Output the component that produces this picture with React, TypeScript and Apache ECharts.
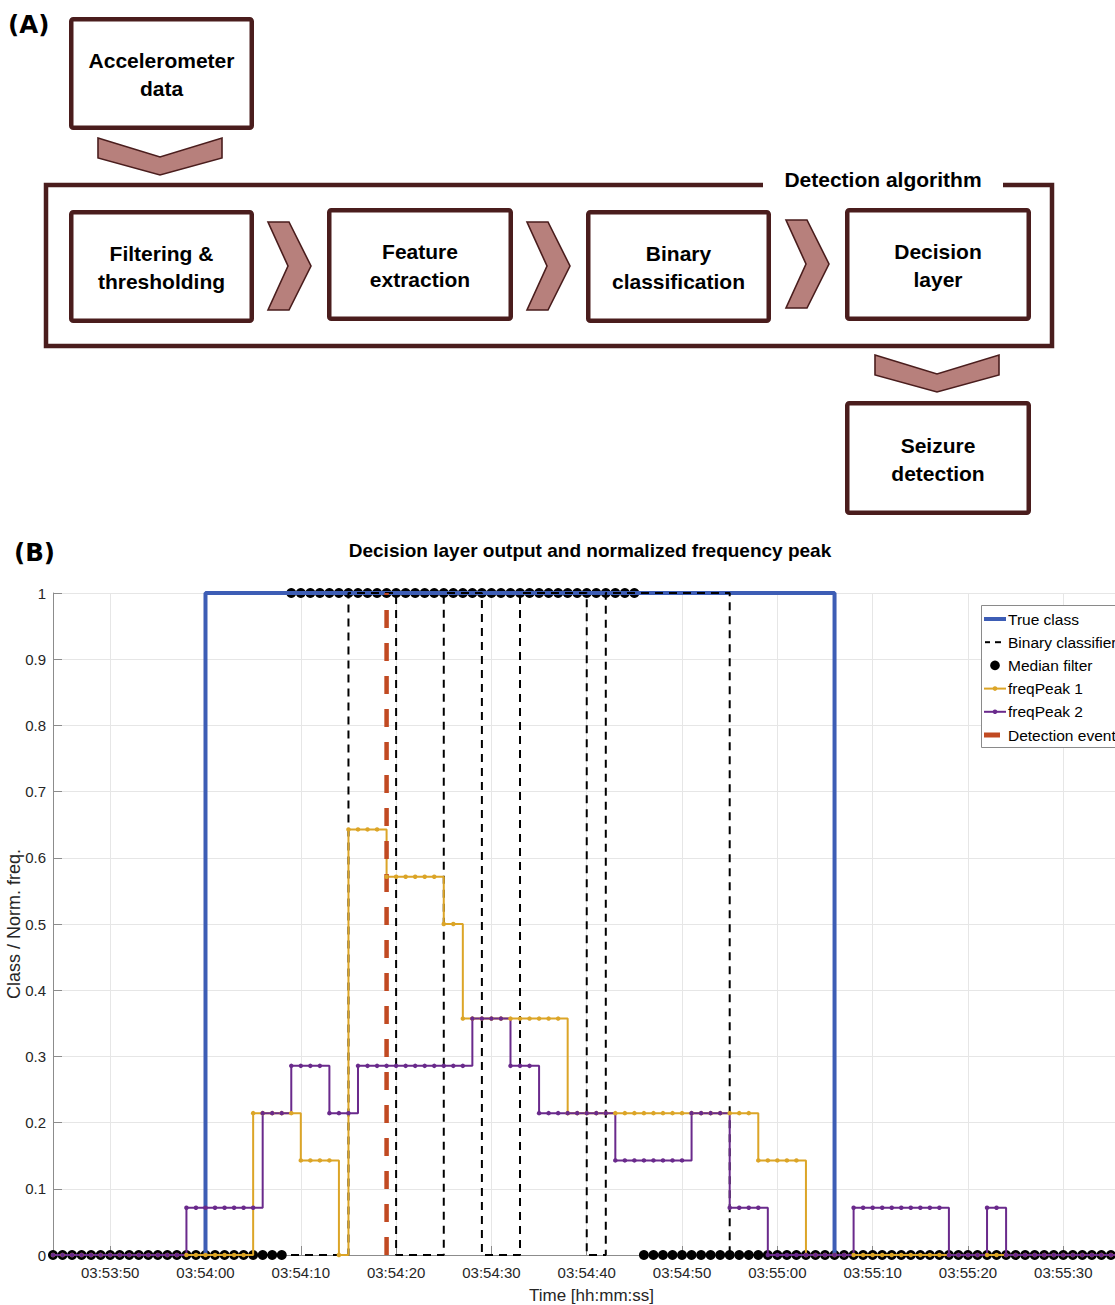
import React, { useEffect, useRef } from "react";
import * as echarts from "echarts";

// ---------------- DATA ----------------
// One sample per second, starting at 03:53:44
const sampleStart = "03:53:44";
const sampleStepSec = 1;

// freqPeak 1 (normalized), rows of 10 samples
const freqPeak1 = [
  0, 0, 0, 0, 0, 0, 0, 0, 0, 0, // 03:53:44
  0, 0, 0, 0, 0, 0, 0, 0, 0, 0, // 03:53:54
  0, 0.2143, 0.2143, 0.2143, 0.2143, 0.2143, 0.1429, 0.1429, 0.1429, 0.1429, // 03:54:04
  0, 0.6429, 0.6429, 0.6429, 0.6429, 0.5714, 0.5714, 0.5714, 0.5714, 0.5714, // 03:54:14
  0.5714, 0.5, 0.5, 0.3571, 0.3571, 0.3571, 0.3571, 0.3571, 0.3571, 0.3571, // 03:54:24
  0.3571, 0.3571, 0.3571, 0.3571, 0.2143, 0.2143, 0.2143, 0.2143, 0.2143, 0.2143, // 03:54:34
  0.2143, 0.2143, 0.2143, 0.2143, 0.2143, 0.2143, 0.2143, 0.2143, 0.2143, 0.2143, // 03:54:44
  0.2143, 0.2143, 0.2143, 0.2143, 0.1429, 0.1429, 0.1429, 0.1429, 0.1429, 0, // 03:54:54
  0, 0, 0, 0, 0, 0, 0, 0, 0, 0, // 03:55:04
  0, 0, 0, 0, 0, 0, 0, 0, 0, 0, // 03:55:14
  0, 0, 0, 0, 0, 0, 0, 0, 0, 0, // 03:55:24
  0, 0, 0, 0, // 03:55:34
];

// freqPeak 2 (normalized)
const freqPeak2 = [
  0, 0, 0, 0, 0, 0, 0, 0, 0, 0,
  0, 0, 0, 0, 0.0714, 0.0714, 0.0714, 0.0714, 0.0714, 0.0714,
  0.0714, 0.0714, 0.2143, 0.2143, 0.2143, 0.2857, 0.2857, 0.2857, 0.2857, 0.2143,
  0.2143, 0.2143, 0.2857, 0.2857, 0.2857, 0.2857, 0.2857, 0.2857, 0.2857, 0.2857,
  0.2857, 0.2857, 0.2857, 0.2857, 0.3571, 0.3571, 0.3571, 0.3571, 0.2857, 0.2857,
  0.2857, 0.2143, 0.2143, 0.2143, 0.2143, 0.2143, 0.2143, 0.2143, 0.2143, 0.1429,
  0.1429, 0.1429, 0.1429, 0.1429, 0.1429, 0.1429, 0.1429, 0.2143, 0.2143, 0.2143,
  0.2143, 0.0714, 0.0714, 0.0714, 0.0714, 0, 0, 0, 0, 0,
  0, 0, 0, 0, 0.0714, 0.0714, 0.0714, 0.0714, 0.0714, 0.0714,
  0.0714, 0.0714, 0.0714, 0.0714, 0, 0, 0, 0, 0.0714, 0.0714,
  0, 0, 0, 0, 0, 0, 0, 0, 0, 0,
  0, 0, 0, 0,
];

// Binary classifier output (0/1)
const binaryClassifier = [
  0, 0, 0, 0, 0, 0, 0, 0, 0, 0,
  0, 0, 0, 0, 0, 0, 0, 0, 0, 0,
  0, 0, 0, 0, 0, 0, 0, 0, 0, 0,
  0, 1, 1, 1, 1, 1, 0, 0, 0, 0,
  0, 1, 1, 1, 1, 0, 0, 0, 0, 1,
  1, 1, 1, 1, 1, 1, 0, 0, 1, 1,
  1, 1, 1, 1, 1, 1, 1, 1, 1, 1,
  1, 0, 0, 0, 0, 0, 0, 0, 0, 0,
  0, 0, 0, 0, 0, 0, 0, 0, 0, 0,
  0, 0, 0, 0, 0, 0, 0, 0, 0, 0,
  0, 0, 0, 0, 0, 0, 0, 0, 0, 0,
  0, 0, 0, 0,
];

// Median filter output (0/1)
const medianFilter = [
  0, 0, 0, 0, 0, 0, 0, 0, 0, 0,
  0, 0, 0, 0, 0, 0, 0, 0, 0, 0,
  0, 0, 0, 0, 0, 1, 1, 1, 1, 1,
  1, 1, 1, 1, 1, 1, 1, 1, 1, 1,
  1, 1, 1, 1, 1, 1, 1, 1, 1, 1,
  1, 1, 1, 1, 1, 1, 1, 1, 1, 1,
  1, 1, 0, 0, 0, 0, 0, 0, 0, 0,
  0, 0, 0, 0, 0, 0, 0, 0, 0, 0,
  0, 0, 0, 0, 0, 0, 0, 0, 0, 0,
  0, 0, 0, 0, 0, 0, 0, 0, 0, 0,
  0, 0, 0, 0, 0, 0, 0, 0, 0, 0,
  0, 0, 0, 0,
];

const trueClassStart = "03:54:00";
const trueClassEnd = "03:55:06";
const detectionEvent = "03:54:19";
const xAxisMin = "03:53:44";
const xAxisMax = "03:55:37";

const legendNames = [
  "True class",
  "Binary classifier",
  "Median filter",
  "freqPeak 1",
  "freqPeak 2",
  "Detection event",
];

const chartTitle = "Decision layer output and normalized frequency peak";

// flowchart texts
const flowTexts = {
  accel: "Accelerometer\ndata",
  filter: "Filtering &\nthresholding",
  feature: "Feature\nextraction",
  binary: "Binary\nclassification",
  decision: "Decision\nlayer",
  seizure: "Seizure\ndetection",
  container: "Detection algorithm",
};

// ---------------- HELPERS ----------------
const toSec = (s: string) => {
  const [h, m, x] = s.split(":").map(Number);
  return h * 3600 + m * 60 + x;
};
const pad = (n: number) => (n < 10 ? "0" + n : "" + n);
const fmtTime = (v: number) => {
  const s = Math.round(v);
  return pad(Math.floor(s / 3600)) + ":" + pad(Math.floor((s % 3600) / 60)) + ":" + pad(s % 60);
};
const withTime = (arr: number[]) => {
  const t0 = toSec(sampleStart);
  return arr.map((v, i) => [t0 + i * sampleStepSec, v]);
};

// ---------------- STYLE ----------------
const FONT = "'Liberation Sans', Arial, Helvetica, sans-serif";
const BROWN = "#4a1d1d";
const CHEV = "#b7807c";
const BLUE = "#3d5db5";
const YELLOW = "#dca527";
const PURPLE = "#6a2a8c";
const RED = "#c14a22";
const AXIS = "#8c8c8c";
const GRID = "#e6e6e6";
const LABEL = "#262626";

// Flowchart layout (outer box edges)
const BOX_LW = 4.5;
const boxLayout = [
  { key: "accel", x: 69, y: 17, w: 185, h: 113 },
  { key: "filter", x: 69, y: 210, w: 185, h: 113 },
  { key: "feature", x: 327, y: 208, w: 186, h: 113 },
  { key: "binary", x: 586, y: 210, w: 185, h: 113 },
  { key: "decision", x: 845, y: 208, w: 186, h: 113 },
  { key: "seizure", x: 845, y: 401, w: 186, h: 114 },
];
const rightChevrons = [
  { x: 268, y: 222 },
  { x: 527, y: 222 },
  { x: 786, y: 220 },
];
const downChevrons = [
  { x: 98, y: 138 },
  { x: 875, y: 355 },
];

function buildGraphic() {
  const els: any[] = [];
  // panel labels
  els.push({
    type: "text", x: 8, y: 24, z: 10,
    style: { text: "(A)", fill: "#000", fontSize: 24.5, fontWeight: "bold", fontFamily: "'DejaVu Sans', sans-serif", align: "left", verticalAlign: "middle" },
  });
  els.push({
    type: "text", x: 14, y: 552, z: 10,
    style: { text: "(B)", fill: "#000", fontSize: 24.5, fontWeight: "bold", fontFamily: "'DejaVu Sans', sans-serif", align: "left", verticalAlign: "middle" },
  });
  // container with a gap at the top
  els.push({
    type: "polyline", z: 10,
    shape: { points: [[763, 185], [46, 185], [46, 346], [1052, 346], [1052, 185], [1003, 185]] },
    style: { stroke: BROWN, lineWidth: BOX_LW, fill: null, lineJoin: "miter" },
  });
  els.push({
    type: "text", x: 883, y: 179, z: 10,
    style: { text: flowTexts.container, fill: "#000", fontSize: 21, fontWeight: "bold", fontFamily: FONT, align: "center", verticalAlign: "middle" },
  });
  boxLayout.forEach((b) => {
    els.push({
      type: "rect", z: 10,
      shape: { x: b.x + BOX_LW / 2, y: b.y + BOX_LW / 2, width: b.w - BOX_LW, height: b.h - BOX_LW, r: 2 },
      style: { fill: "#fff", stroke: BROWN, lineWidth: BOX_LW },
    });
    els.push({
      type: "text", x: b.x + b.w / 2, y: b.y + b.h / 2 + 1, z: 11,
      style: {
        text: (flowTexts as any)[b.key], fill: "#000", fontSize: 21, fontWeight: "bold", fontFamily: FONT,
        align: "center", verticalAlign: "middle", lineHeight: 28,
      },
    });
  });
  rightChevrons.forEach((c) => {
    els.push({
      type: "polygon", z: 10,
      shape: { points: [[c.x, c.y], [c.x + 21, c.y], [c.x + 43, c.y + 44], [c.x + 21, c.y + 88], [c.x, c.y + 88], [c.x + 20, c.y + 44]] },
      style: { fill: CHEV, stroke: BROWN, lineWidth: 1.6, lineJoin: "miter" },
    });
  });
  downChevrons.forEach((c) => {
    els.push({
      type: "polygon", z: 10,
      shape: { points: [[c.x, c.y], [c.x + 62, c.y + 19], [c.x + 124, c.y], [c.x + 124, c.y + 20], [c.x + 62, c.y + 37], [c.x, c.y + 20]] },
      style: { fill: CHEV, stroke: BROWN, lineWidth: 1.6, lineJoin: "miter" },
    });
  });

  // Legend (drawn by hand to match marker styles)
  const lx = 981, ly = 605, rowY = [619, 642.2, 665.4, 688.6, 711.8, 735];
  els.push({
    type: "rect", z: 50,
    shape: { x: lx + 0.5, y: ly + 0.5, width: 170, height: 142 },
    style: { fill: "#fff", stroke: "#8a8a8a", lineWidth: 1 },
  });
  // True class
  els.push({ type: "line", z: 51, shape: { x1: 984, y1: rowY[0], x2: 1006, y2: rowY[0] }, style: { stroke: BLUE, lineWidth: 4 } });
  // Binary classifier
  els.push({ type: "line", z: 51, shape: { x1: 985, y1: rowY[1], x2: 990, y2: rowY[1] }, style: { stroke: "#000", lineWidth: 2 } });
  els.push({ type: "line", z: 51, shape: { x1: 995, y1: rowY[1], x2: 1001, y2: rowY[1] }, style: { stroke: "#000", lineWidth: 2 } });
  // Median filter
  els.push({ type: "circle", z: 51, shape: { cx: 995, cy: rowY[2], r: 4.8 }, style: { fill: "#000" } });
  // freqPeak 1
  els.push({ type: "line", z: 51, shape: { x1: 984, y1: rowY[3], x2: 1006, y2: rowY[3] }, style: { stroke: YELLOW, lineWidth: 2 } });
  els.push({ type: "circle", z: 52, shape: { cx: 995, cy: rowY[3], r: 2.3 }, style: { fill: YELLOW } });
  // freqPeak 2
  els.push({ type: "line", z: 51, shape: { x1: 984, y1: rowY[4], x2: 1006, y2: rowY[4] }, style: { stroke: PURPLE, lineWidth: 2 } });
  els.push({ type: "circle", z: 52, shape: { cx: 995, cy: rowY[4], r: 2.3 }, style: { fill: PURPLE } });
  // Detection event
  els.push({ type: "line", z: 51, shape: { x1: 984, y1: rowY[5], x2: 1000, y2: rowY[5] }, style: { stroke: RED, lineWidth: 5 } });
  legendNames.forEach((n, i) => {
    els.push({
      type: "text", x: 1008, y: rowY[i], z: 52,
      style: { text: n, fill: "#000", fontSize: 15.5, fontFamily: FONT, align: "left", verticalAlign: "middle" },
    });
  });
  return els;
}

export default function App() {
  const ref = useRef<HTMLDivElement>(null);
  useEffect(() => {
    if (!ref.current) return;
    const chart = echarts.init(ref.current, undefined, { renderer: "svg" });
    const tStart = toSec(trueClassStart);
    const tEnd = toSec(trueClassEnd);
    const tDet = toSec(detectionEvent);
    const option: any = {
      animation: false,
      backgroundColor: "#ffffff",
      title: {
        text: chartTitle,
        left: "center",
        top: 541,
        padding: 0,
        textStyle: { fontSize: 19, fontWeight: "bold", color: "#000", fontFamily: FONT },
      },
      grid: { left: 53, top: 593, width: 1077, height: 662, outerBoundsMode: "none", containLabel: false },
      xAxis: {
        type: "value",
        min: toSec(xAxisMin),
        max: toSec(xAxisMax),
        minInterval: 10,
        maxInterval: 10,
        splitNumber: 11,
        name: "Time [hh:mm:ss]",
        nameLocation: "middle",
        nameGap: 32,
        nameMoveOverlap: false,
        nameTextStyle: { fontSize: 17, color: LABEL, fontFamily: FONT },
        axisLine: { show: true, onZero: false, lineStyle: { color: AXIS, width: 1 } },
        axisTick: { show: true, inside: true, length: 9, lineStyle: { color: AXIS, width: 1 } },
        axisLabel: {
          show: true, formatter: fmtTime, color: LABEL, fontSize: 15, fontFamily: FONT, margin: 10,
          showMinLabel: false, showMaxLabel: false,
        },
        splitLine: { show: true, lineStyle: { color: GRID, width: 1 } },
      },
      yAxis: {
        type: "value",
        min: 0,
        max: 1,
        interval: 0.1,
        name: "Class / Norm. freq.",
        nameLocation: "middle",
        nameGap: 30,
        nameRotate: 90,
        nameMoveOverlap: false,
        nameTextStyle: { fontSize: 18, color: LABEL, fontFamily: FONT },
        axisLine: { show: true, lineStyle: { color: AXIS, width: 1 } },
        axisTick: { show: true, inside: true, length: 9, lineStyle: { color: AXIS, width: 1 } },
        axisLabel: { show: true, color: LABEL, fontSize: 15, fontFamily: FONT, margin: 7 },
        splitLine: { show: true, lineStyle: { color: GRID, width: 1 } },
      },
      series: [
        {
          name: legendNames[0],
          type: "line",
          data: [[tStart, 0], [tStart, 1], [tEnd, 1], [tEnd, 0]],
          symbol: "none",
          clip: false,
          silent: true,
          lineStyle: { color: BLUE, width: 4 },
          itemStyle: { color: BLUE },
        },
        {
          name: legendNames[1],
          type: "line",
          step: "end",
          data: withTime(binaryClassifier),
          symbol: "none",
          clip: false,
          silent: true,
          lineStyle: { color: "#000", width: 2, type: [8, 6] },
          itemStyle: { color: "#000" },
        },
        {
          name: legendNames[2],
          type: "scatter",
          data: withTime(medianFilter),
          symbol: "circle",
          symbolSize: 10,
          clip: false,
          silent: true,
          itemStyle: { color: "#000", opacity: 1 },
        },
        {
          name: legendNames[3],
          type: "line",
          step: "end",
          data: withTime(freqPeak1),
          symbol: "circle",
          symbolSize: 4.5,
          showSymbol: true,
          showAllSymbol: true,
          clip: false,
          silent: true,
          lineStyle: { color: YELLOW, width: 2 },
          itemStyle: { color: YELLOW, borderWidth: 0 },
        },
        {
          name: legendNames[4],
          type: "line",
          step: "end",
          data: withTime(freqPeak2),
          symbol: "circle",
          symbolSize: 4.5,
          showSymbol: true,
          showAllSymbol: true,
          clip: false,
          silent: true,
          lineStyle: { color: PURPLE, width: 2 },
          itemStyle: { color: PURPLE, borderWidth: 0 },
        },
        {
          name: legendNames[5],
          type: "line",
          data: [[tDet, 0], [tDet, 1]],
          symbol: "none",
          clip: false,
          silent: true,
          lineStyle: { color: RED, width: 4.5, type: [18, 15] },
          itemStyle: { color: RED },
        },
      ],
      graphic: buildGraphic(),
    };
    chart.setOption(option);
    return () => chart.dispose();
  }, []);

  return (
    <div style={{ position: "fixed", left: 0, top: 0, width: 1115, height: 1305, overflow: "hidden", background: "#fff" }}>
      <div ref={ref} style={{ width: 1180, height: 1305 }} />
    </div>
  );
}
